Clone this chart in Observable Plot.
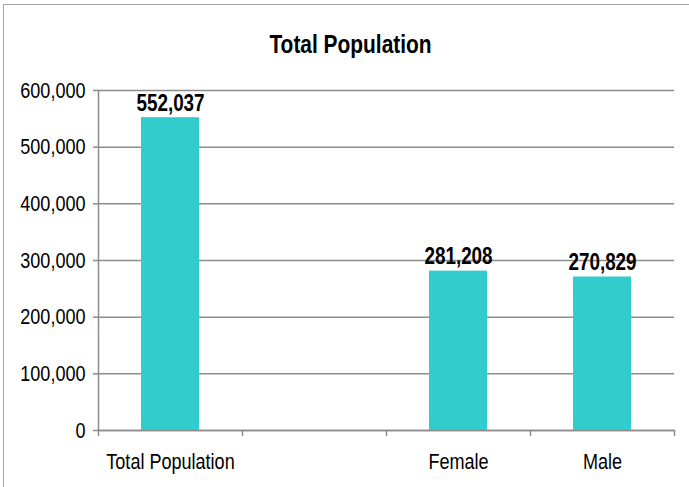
<!DOCTYPE html>
<html>
<head>
<meta charset="utf-8">
<script src="https://cdn.jsdelivr.net/npm/d3@7"></script>
<script src="https://cdn.jsdelivr.net/npm/@observablehq/plot@0.6"></script>
<style>
  html, body { margin: 0; padding: 0; background: #fff; }
  #wrap { position: relative; width: 689px; height: 487px; overflow: hidden; }
  #border { position: absolute; left: 3px; top: 4px; width: 800px; height: 700px;
            border-top: 1.5px solid #a6a6a6; border-left: 1.5px solid #a6a6a6; pointer-events: none; }
  svg { display: block; }
</style>
</head>
<body>
<div id="wrap"><div id="border"></div></div>
<script>
const title = "Total Population";
const categories = ["Total Population", " ", "Female", "Male"];
const values = [552037, null, 281208, 270829];
const yTicks = [0, 100000, 200000, 300000, 400000, 500000, 600000];

const data = categories.map((c, i) => ({category: c, value: values[i]})).filter(d => d.value != null);

const W = 689, H = 487, mL = 98, mR = 15, mT = 90, mB = 57;
const step = (W - mL - mR) / categories.length;
const font = "'Liberation Sans Narrow', 'Liberation Sans', sans-serif";
const grey = "#8c8c8c";
const fmt = d3.format(",");

const chart = Plot.plot({
  width: W, height: H,
  marginLeft: mL, marginRight: mR, marginTop: mT, marginBottom: mB,
  style: {fontFamily: font, fontSize: "22px", color: "#000", background: "#fff"},
  x: {domain: categories, paddingInner: 0.6, paddingOuter: 0.3, label: null},
  y: {domain: [0, 600000], ticks: yTicks, label: null},
  marks: [
    Plot.gridY(yTicks, {stroke: grey, strokeOpacity: 1, strokeWidth: 1.5}),
    Plot.barY(data, {x: "category", y: "value", fill: "#33CCCC"}),
    Plot.frame({anchor: "left", stroke: grey, strokeWidth: 1.5}),
    Plot.frame({anchor: "bottom", stroke: grey, strokeWidth: 1.5}),
    Plot.axisY(yTicks, {tickSize: 5, tickPadding: 8, tickFormat: fmt, stroke: grey, strokeWidth: 1.5, fontSize: 22, label: null}),
    Plot.axisX({tickSize: 0, tickPadding: 23, fontSize: 22, label: null}),
    Plot.axisX({tickSize: 6, dx: -step / 2, tickFormat: () => "", stroke: grey, strokeWidth: 1.5, label: null}),
    Plot.axisX([categories[categories.length - 1]], {tickSize: 6, dx: step / 2, tickFormat: () => "", stroke: grey, strokeWidth: 1.5, label: null}),
    Plot.text(data, {x: "category", y: "value", text: d => fmt(d.value), lineAnchor: "bottom", dy: -7, fontWeight: "bold", fontSize: 23, fill: "#000"}),
    Plot.text([title], {frameAnchor: "top", dx: -36, dy: -38, lineAnchor: "bottom", fontWeight: "bold", fontSize: 25.5, fill: "#000"})
  ]
});
document.getElementById("wrap").insertBefore(chart, document.getElementById("border"));

// Condense glyphs horizontally to mimic the narrow font of the original
chart.querySelectorAll("text").forEach(t => {
  const len = t.getComputedTextLength();
  if (len > 0) {
    t.setAttribute("textLength", (len * 0.82).toFixed(2));
    t.setAttribute("lengthAdjust", "spacingAndGlyphs");
  }
});
</script>
</body>
</html>
